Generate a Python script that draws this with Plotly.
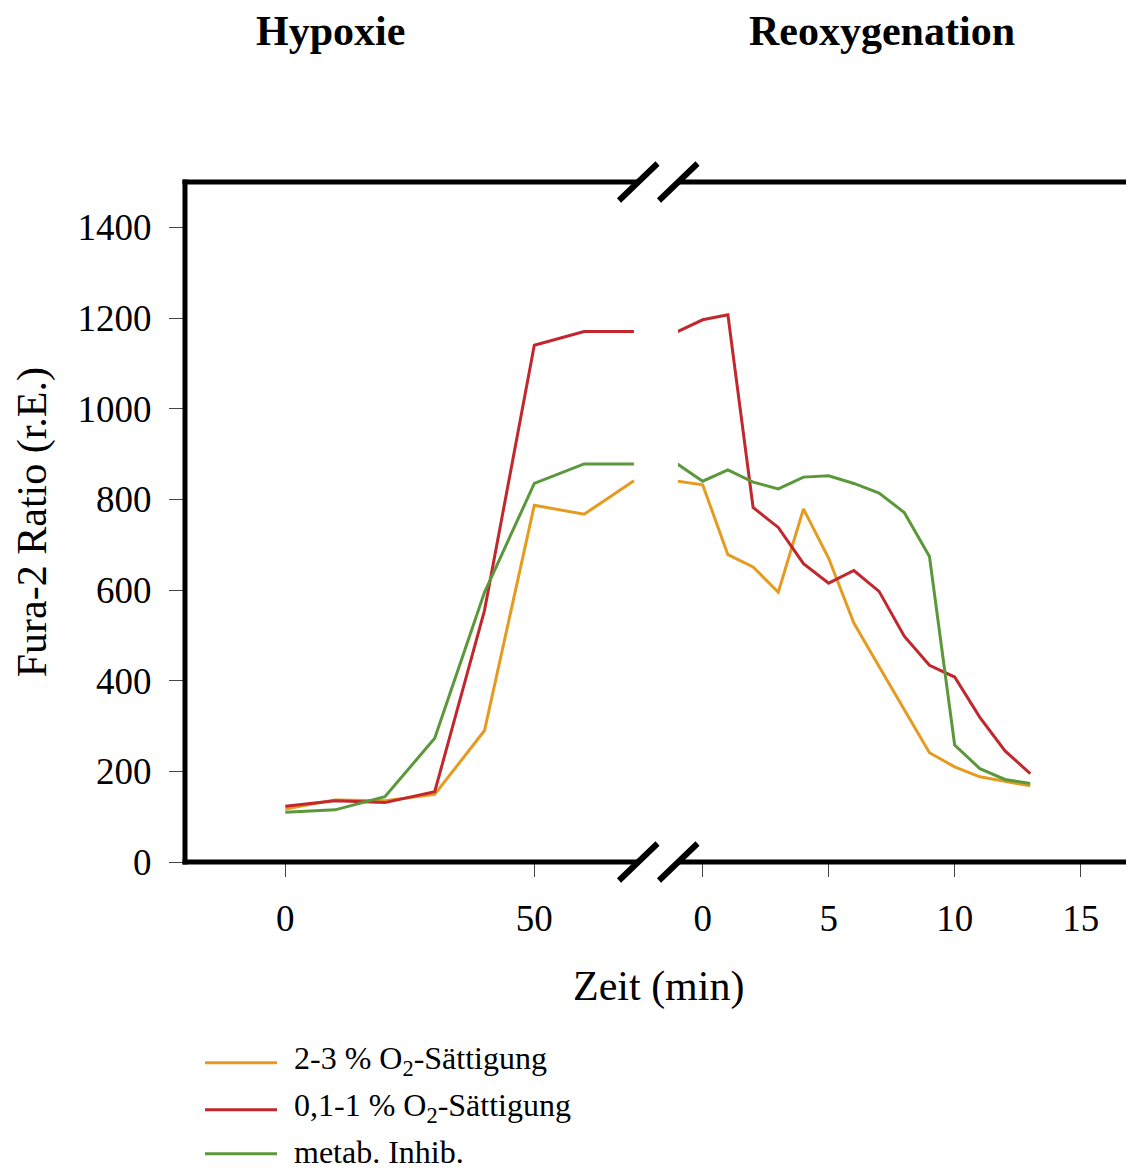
import plotly.graph_objects as go

# ---------------- data ----------------
hyp_time = [0, 10, 20, 30, 40, 50, 60, 70]
hyp_orange = [117, 137, 135, 149, 290, 787, 767, 841]
hyp_red = [123, 135, 131, 155, 555, 1140, 1170, 1170]
hyp_green = [110, 115, 144, 273, 595, 835, 878, 878]

reox_time = [-1, 0, 1, 2, 3, 4, 5, 6, 7, 8, 9, 10, 11, 12, 13]
reox_orange = [840, 832, 678, 651, 595, 779, 670, 527, 431, 337, 241, 210, 188, 178, 168]
reox_red = [1170, 1196, 1207, 782, 738, 658, 615, 643, 597, 498, 434, 408, 319, 245, 195]
reox_green = [878, 840, 865, 838, 823, 849, 852, 835, 814, 771, 674, 258, 206, 182, 173]

series_names = ["2-3 % O<sub>2</sub>-Sättigung", "0,1-1 % O<sub>2</sub>-Sättigung", "metab. Inhib."]
series_colors = ["#E59B20", "#C1272D", "#5B983B"]

y_ticks = [0, 200, 400, 600, 800, 1000, 1200, 1400]
hyp_ticks = [0, 50]
reox_ticks = [0, 5, 10, 15]

panel_titles = ["Hypoxie", "Reoxygenation"]
x_title = "Zeit (min)"
y_title = "Fura-2 Ratio (r.E.)"

# ---------------- figure ----------------
W, H = 1126, 1169
L, R, T, B = 185, 0, 181.5, 307
PW, PH = W - L - R, H - T - B
BOT = H - B  # pixel row of the bottom of the plot area


def px(x):
    return (x - L) / PW


def py(y):
    return (BOT - y) / PH


FONT = "Liberation Serif, Times New Roman, serif"

fig = go.Figure()
hyp_series = [hyp_orange, hyp_red, hyp_green]
reox_series = [reox_orange, reox_red, reox_green]
for name, col, hv, rv in zip(series_names, series_colors, hyp_series, reox_series):
    fig.add_trace(go.Scatter(x=hyp_time, y=hv, mode="lines", name=name,
                             line=dict(color=col, width=3), xaxis="x", yaxis="y",
                             showlegend=False))
    fig.add_trace(go.Scatter(x=reox_time, y=rv, mode="lines", name=name,
                             line=dict(color=col, width=3), xaxis="x2", yaxis="y",
                             showlegend=False))

axis_common = dict(showline=False, showgrid=False, zeroline=False, ticks="outside",
                   tickwidth=1, tickcolor="#444",
                   tickfont=dict(family=FONT, size=37, color="black"))

fig.update_layout(
    width=W, height=H,
    margin=dict(l=L, r=R, t=T, b=B, pad=0),
    paper_bgcolor="white", plot_bgcolor="white",
    font=dict(family=FONT, color="black"),
    xaxis=dict(domain=[0, px(638)], range=[-20.14, 70.82], tickvals=hyp_ticks,
               anchor="y", ticklen=14, ticklabelstandoff=10, **axis_common),
    xaxis2=dict(domain=[px(678), 1], range=[-0.98, 16.80], tickvals=reox_ticks,
                anchor="y", ticklen=14, ticklabelstandoff=10, **axis_common),
    yaxis=dict(range=[0, 1500], tickvals=y_ticks, anchor="x",
               ticklen=15, ticklabelstandoff=10, **axis_common),
)

shapes = []
FW = 5  # frame width
frame = dict(color="black", width=FW)
# left vertical frame line
shapes.append(dict(type="line", xref="paper", yref="paper", x0=px(185), x1=px(185),
                   y0=py(BOT + FW / 2), y1=py(T - FW / 2), line=frame))
# top and bottom frame lines, interrupted at the break
for yc in (T, BOT):
    shapes.append(dict(type="line", xref="paper", yref="paper", x0=px(185 - FW / 2), x1=px(638),
                       y0=py(yc), y1=py(yc), line=frame))
    shapes.append(dict(type="line", xref="paper", yref="paper", x0=px(678), x1=px(W),
                       y0=py(yc), y1=py(yc), line=frame))
    # break marks
    for x0 in (619, 659):
        shapes.append(dict(type="line", xref="paper", yref="paper",
                           x0=px(x0), y0=py(yc + 18.5), x1=px(x0 + 38.5), y1=py(yc - 18.5),
                           line=dict(color="black", width=6)))

annotations = []
for title, cx in zip(panel_titles, (330, 882)):
    annotations.append(dict(text="<b>%s</b>" % title, x=px(cx), y=py(30), xref="paper", yref="paper",
                            showarrow=False, xanchor="center", yanchor="middle",
                            font=dict(family=FONT, size=42, color="black")))
annotations.append(dict(text=x_title, x=px(658), y=py(987), xref="paper", yref="paper",
                        showarrow=False, xanchor="center", yanchor="middle",
                        font=dict(family=FONT, size=42, color="black")))
annotations.append(dict(text=y_title, x=px(32), y=py(522), xref="paper", yref="paper",
                        showarrow=False, xanchor="center", yanchor="middle", textangle=-90,
                        font=dict(family=FONT, size=42, color="black")))

# legend
leg_y = [1063, 1110, 1154]
for name, col, yy in zip(series_names, series_colors, leg_y):
    shapes.append(dict(type="line", xref="paper", yref="paper",
                       x0=px(205), x1=px(277), y0=py(yy), y1=py(yy),
                       line=dict(color=col, width=3)))
    annotations.append(dict(text=name, x=px(292), y=py(yy - 2), xref="paper", yref="paper",
                            showarrow=False, xanchor="left", yanchor="middle",
                            font=dict(family=FONT, size=32, color="black")))

fig.update_layout(shapes=shapes, annotations=annotations)
fig.write_html("out.html")
